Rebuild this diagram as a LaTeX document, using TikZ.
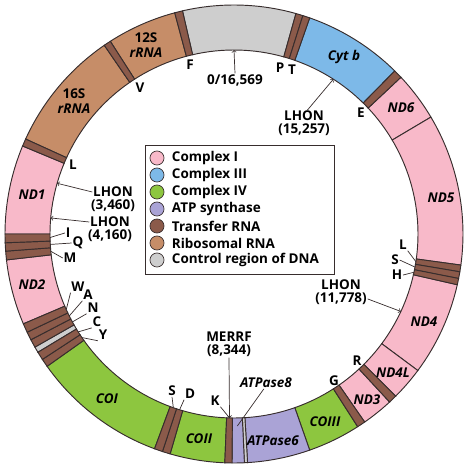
\documentclass[tikz,border=0pt]{standalone}
\usepackage{fontspec}
\setmainfont{Open Sans}
\usetikzlibrary{positioning}
\definecolor{cplxi}{RGB}{248,185,201}
\definecolor{cplxiii}{RGB}{125,185,232}
\definecolor{cplxiv}{RGB}{141,198,63}
\definecolor{atpsyn}{RGB}{170,163,214}
\definecolor{trna}{RGB}{139,90,74}
\definecolor{rrna}{RGB}{198,141,104}
\definecolor{ctrl}{RGB}{206,206,206}
\definecolor{edge}{RGB}{55,45,45}
\tikzset{every path/.style={semithick}}
\tikzset{
  gene/.style={font=\fontsize{11.5}{12.5}\selectfont\bfseries\itshape, inner sep=0.5pt},
  trn/.style={font=\fontsize{11.5}{12.5}\selectfont\bfseries, inner sep=0.5pt},
  note/.style={font=\fontsize{11.5}{12.5}\selectfont\bfseries, inner sep=0.5pt},
  legdot/.style={circle, draw=edge, minimum size=12pt, inner sep=0pt},
  lead/.style={draw=edge},
  pointer/.style={draw=edge, ->},
}
% ring piece from #1 to #2 degrees (clockwise from the top)
\newcommand{\arcseg}[3]{
  \filldraw[fill=#3, draw=edge, thick] ({90-#1}:184) arc[start angle={90-#1}, end angle={90-#2}, radius=184]
    -- ({90-#2}:229) arc[start angle={90-#2}, end angle={90-#1}, radius=229] -- cycle;
}
\begin{document}
\begin{tikzpicture}[scale=0.03]
  \useasboundingbox (-234,-235) rectangle (235,234);

  % genes
  \arcseg{-13}{15.7}{ctrl}
  \arcseg{19.3}{44.6}{cplxiii}
  \arcseg{46.8}{59.3}{cplxi}
  \arcseg{59.3}{97.8}{cplxi}
  \arcseg{102.8}{126.6}{cplxi}
  \arcseg{126.6}{135.1}{cplxi}
  \arcseg{137.2}{145.2}{cplxi}
  \arcseg{147.3}{160.7}{cplxiv}
  \arcseg{160.7}{176.6}{atpsyn}
  \arcseg{176.6}{177.4}{ctrl}
  \arcseg{177.4}{180.5}{atpsyn}
  \arcseg{182.3}{196.2}{cplxiv}
  \arcseg{200.3}{234.7}{cplxiv}
  \arcseg{238.9}{240.4}{ctrl}
  \arcseg{246.9}{263.5}{cplxi}
  \arcseg{270}{292.6}{cplxi}
  \arcseg{294.5}{325.5}{rrna}
  \arcseg{327.3}{345}{rrna}

  % transfer RNAs
  \foreach \a/\b in {15.7/17.5, 17.5/19.3, 44.6/46.8, 97.8/99.5, 99.5/101.2, 101.2/102.8,
      135.1/137.2, 145.2/147.3, 180.5/182.3, 196.2/198.2, 198.2/200.3,
      234.7/236.8, 236.8/238.9, 240.4/242.5, 242.5/244.6, 244.6/246.9,
      263.5/265.7, 265.7/267.8, 267.8/270, 292.6/294.5, 325.5/327.3, 345/347}
    \arcseg{\a}{\b}{trna};

  \node[gene] (nd1) at (-202,39) {ND1};
  \node[gene] (nd2) at (-202,-51) {ND2};
  \node[gene] (coi) at (-127,-165) {COI};
  \node[gene] (coii) at (-35,-205) {COII};
  \node[gene] (atp6) at (39,-207) {ATPase6};
  \node[gene] (coiii) at (91,-188) {COIII};
  \node[gene] (nd3) at (133,-166) {ND3};
  \node[gene] (nd4l) at (159,-139) {ND4L};
  \node[gene] (nd4) at (190,-88) {ND4};
  \node[gene] (nd5) at (207,36) {ND5};
  \node[gene] (nd6) at (167,126) {ND6};
  \node[gene] (cytb) at (110,177) {Cyt b};
  \node[gene, align=center] (rrnaA) at (-88,189) {{\upshape 12S}\\rRNA};
  \node[gene, align=center] (rrnaB) at (-160,133) {{\upshape 16S}\\rRNA};

  % tRNA letters
  \node[trn] (tF) at (-44,169) {F};
  \node[trn] (tV) at (-94,146) {V};
  \node[trn] (tL1) at (-161,69) {L};
  \node[trn] (tP) at (46,166) {P};
  \node[trn] (tT) at (58,164) {T};
  \node[trn] (tE) at (127,121) {E};
  \node[trn] (tL2) at (169,-11) {L};
  \node[trn] (tS2) at (161,-26) {S};
  \node[trn] (tH) at (163,-41) {H};
  \node[trn] (tR) at (123,-127) {R};
  \node[trn] (tG) at (100,-147) {G};
  \node[trn] (tK) at (-19,-167) {K};
  \node[trn] (tD) at (-44,-160) {D};
  \node[trn] (tS1) at (-62,-157) {S};
  \node[trn] (tY) at (-131,-101) {Y};
  \node[trn] (tC) at (-137,-88) {C};
  \node[trn] (tN) at (-141,-74) {N};
  \node[trn] (tA) at (-146,-61) {A};
  \node[trn] (tW) at (-156,-53) {W};
  \node[trn] (tM) at (-164,-24) {M};
  \node[trn] (tQ) at (-156,-9) {Q};
  \node[trn] (tI) at (-166,1) {I};

  \coordinate (bL2) at ({90-98.65}:184);
  \coordinate (bS2) at ({90-100.35}:184);
  \coordinate (bH) at ({90-102}:184);
  \coordinate (bK) at ({90-181.4}:184);
  \coordinate (bD) at ({90-197.2}:184);
  \coordinate (bS1) at ({90-199.25}:184);
  \coordinate (bY) at ({90-235.75}:184);
  \coordinate (bC) at ({90-237.85}:184);
  \coordinate (bN) at ({90-241.45}:184);
  \coordinate (bA) at ({90-243.55}:184);
  \coordinate (bW) at ({90-245.75}:184);
  \coordinate (bM) at ({90-264.6}:184);
  \coordinate (bQ) at ({90-266.75}:184);
  \coordinate (bI) at ({90-268.9}:184);
  \coordinate (bA8) at ({90-179}:192);

  \draw[lead] (tL2.south east) -- (bL2);
  \draw[lead] (tS2.east) -- (bS2);
  \draw[lead] (tH.east) -- (bH);
  \draw[lead] (tK.south east) -- (bK);
  \draw[lead] (tD.south west) -- (bD);
  \draw[lead] (tS1.south) -- (bS1);
  \foreach \t in {Y,C,N,A,W}
    \draw[lead] (t\t.south west) -- (b\t);
  \draw[lead] (tM.west) -- (bM);
  \draw[lead] (tQ.west) -- (bQ);
  \draw[lead] (tI.west) -- (bI);

  % mutations
  \node[note] (lhonA) at (-121,42) {LHON};
  \node[note, below=1pt of lhonA] (lhonAnum) {(3,460)};
  \node[note] (lhonB) at (-124,12) {LHON};
  \node[note, below=1pt of lhonB] (lhonBnum) {(4,160)};
  \node[note] (lhonC) at (70,118) {LHON};
  \node[note, below=1pt of lhonC] (lhonCnum) {(15,257)};
  \node[note] (lhonD) at (107,-51) {LHON};
  \node[note, below=1pt of lhonD] (lhonDnum) {(11,778)};
  \node[note] (merrf) at (-5,-103) {MERRF};
  \node[note, below=1pt of merrf] (merrfnum) {(8,344)};
  \node[note] (origin) at (1,154) {0/16,569};
  \node[gene] (atp8) at (32,-149) {ATPase8};

  \draw[pointer] (lhonA.west) -- ({90-286}:184);
  \draw[pointer] (lhonB.west) -- (175:184);
  \draw[pointer] (lhonC.60) -- (57.3:184);
  \draw[pointer] (lhonDnum.east) -- (-24.9:184);
  \draw[pointer] (merrfnum.south) -- (bK);
  \draw[pointer] (origin.north) -- (90:184);
  \draw[lead] (atp8.250) -- (bA8);

  % legend
  \draw[draw=edge] (-89,-40) rectangle (100,89);
  \foreach \c/\t [count=\i] in {cplxi/Complex I, cplxiii/Complex III, cplxiv/Complex IV,
      atpsyn/ATP synthase, trna/Transfer RNA, rrna/Ribosomal RNA, ctrl/Control region of DNA} {
    \node[legdot, fill=\c] (dot\i) at (-77,93-17*\i) {};
    \node[note, anchor=west] (leg\i) at (-63,93-17*\i) {\t};
  }
\end{tikzpicture}
\end{document}
